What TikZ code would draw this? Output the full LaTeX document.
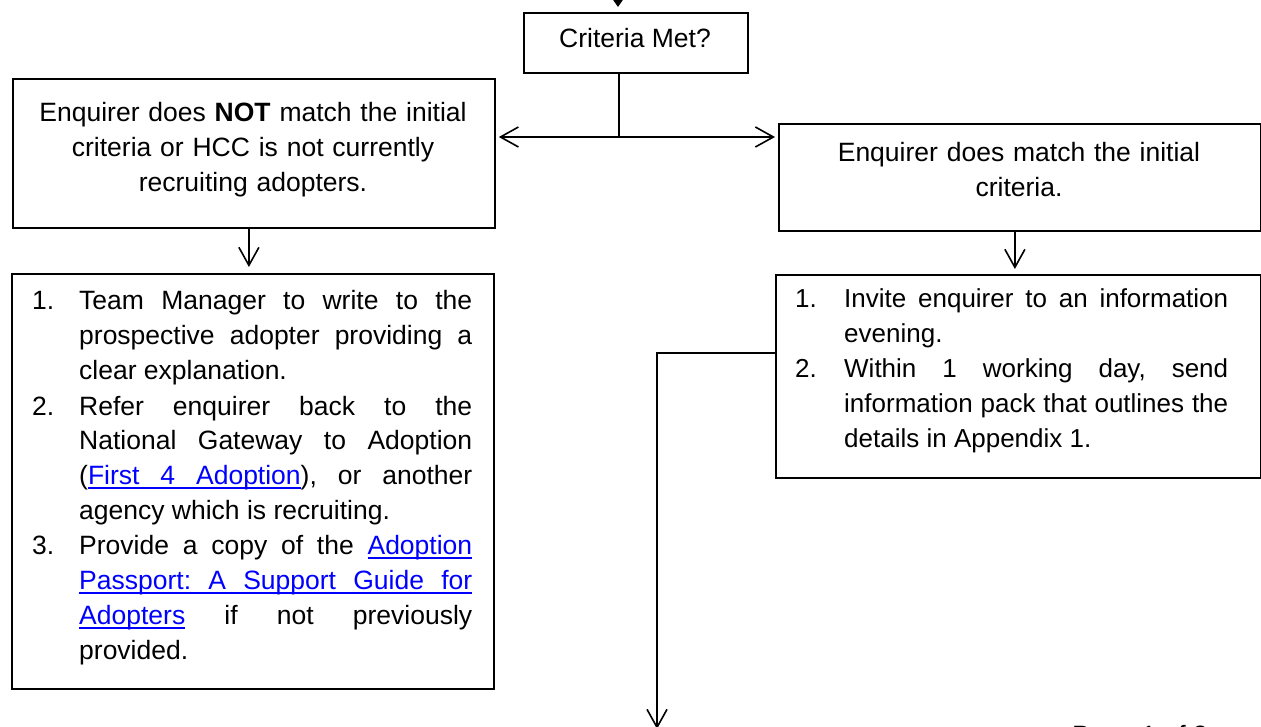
\documentclass[tikz,border=0pt]{standalone}
\usepackage{fontspec}
\setmainfont{Liberation Sans}
\usetikzlibrary{arrows.meta}
\definecolor{linkblue}{RGB}{0,0,255}
\newcommand\ulw[1]{\setbox0\hbox{#1}\rlap{\rule[-4pt]{\wd0}{1.6pt}}\box0}
\newcommand\ulsp{\leaders\hrule height -2.4pt depth 4pt\hskip\fontdimen2\font plus\fontdimen3\font minus\fontdimen4\font\relax}
\newcommand\numbox[2]{\hangindent=#2\hangafter=1\noindent\hbox to #2{#1\hfil}}
\begin{document}
\begin{tikzpicture}[x=1pt,y=-1pt,
  box/.style={draw, line width=1.8pt, inner sep=0pt, anchor=north west},
  conn/.style={line width=1.6pt},
  arr/.style={conn, -{Straight Barb[length=18pt,width=20pt]}},
  txt/.style={font=\fontsize{26.5}{35}\selectfont, inner sep=0pt},
  listtxt/.style={txt, anchor=base west, align=justify,
    execute at begin node={\frenchspacing\tolerance=10000\hbadness=10000\emergencystretch=0pt}}]
\useasboundingbox (0,0) rectangle (1261,727);
\clip (0,0) rectangle (1261,727);

% boxes
\node[box, minimum width=224pt, minimum height=60pt] (crit) at (523,12) {};
\node[box, minimum width=482pt, minimum height=149pt] (nomatch) at (12,78) {};
\node[box, minimum width=482pt, minimum height=107pt] (match) at (778,123) {};
\node[box, minimum width=482pt, minimum height=415pt] (reject) at (11,273) {};
\node[box, minimum width=485pt, minimum height=203pt] (invite) at (775,274) {};

% texts
\node[txt, anchor=base] (tcrit) at (635,48) {Criteria Met?};
\node[txt, anchor=base, text width=482pt, align=center] (tnomatch) at (253,121.5)
  {Enquirer does \textbf{NOT} match the initial\\criteria or HCC is not currently\\recruiting adopters.};
\node[txt, anchor=base, text width=482pt, align=center] (tmatch) at (1019,161.5)
  {Enquirer does match the initial\\criteria.};
\node[listtxt, text width=440pt] (treject) at (32,310) {%
  \numbox{1.}{47pt}Team Manager to write to the\linebreak prospective adopter providing a\linebreak clear explanation.\par
  \numbox{2.}{47pt}Refer enquirer back to the\linebreak National Gateway to Adoption\linebreak
  ({\color{linkblue}\ulw{First}\ulsp\ulw{4}\ulsp\ulw{Adoption}}), or another\linebreak agency which is recruiting.\par
  \numbox{3.}{47pt}Provide a copy of the {\color{linkblue}\ulw{Adoption}}\linebreak
  {\color{linkblue}\ulw{Passport:}\ulsp\ulw{A}\ulsp\ulw{Support}\ulsp\ulw{Guide}\ulsp\ulw{for}}\linebreak
  {\color{linkblue}\ulw{Adopters}} if not previously\linebreak provided.\par};
\node[listtxt, text width=433pt, font=\fontsize{26}{35}\selectfont] (tinvite) at (795,308) {%
  \numbox{1.}{49pt}Invite enquirer to an information\linebreak evening.\par
  \numbox{2.}{49pt}Within 1 working day, send\linebreak information pack that outlines the\linebreak details in Appendix 1.\par};
\node[txt, anchor=base west] (page) at (1072,744.5) {Page 1 of 2};

% connectors
\coordinate (topin) at (618,-40);
\draw[conn, -{Triangle[length=9pt,width=12pt]}, shorten >=5pt] (topin) -- (topin |- crit.north);
\coordinate (split) at (619,137);
\draw[conn] (split |- crit.south) -- (split);
\draw[conn, {Straight Barb[length=18pt,width=20pt]}-{Straight Barb[length=18pt,width=20pt]}, shorten <=3pt, shorten >=3pt]
  (split -| nomatch.east) -- (split -| match.west);
\draw[arr, shorten >=6pt] ([xshift=-5pt]nomatch.south) -- ([xshift=-5pt]nomatch.south |- reject.north);
\draw[arr, shorten >=5pt] ([xshift=-5pt]match.south) -- ([xshift=-5pt]match.south |- invite.north);
\coordinate (bend) at (657,353);
\coordinate (down) at (657,729);
\draw[arr] (invite.west |- bend) -- (bend) -- (down);
\end{tikzpicture}
\end{document}
